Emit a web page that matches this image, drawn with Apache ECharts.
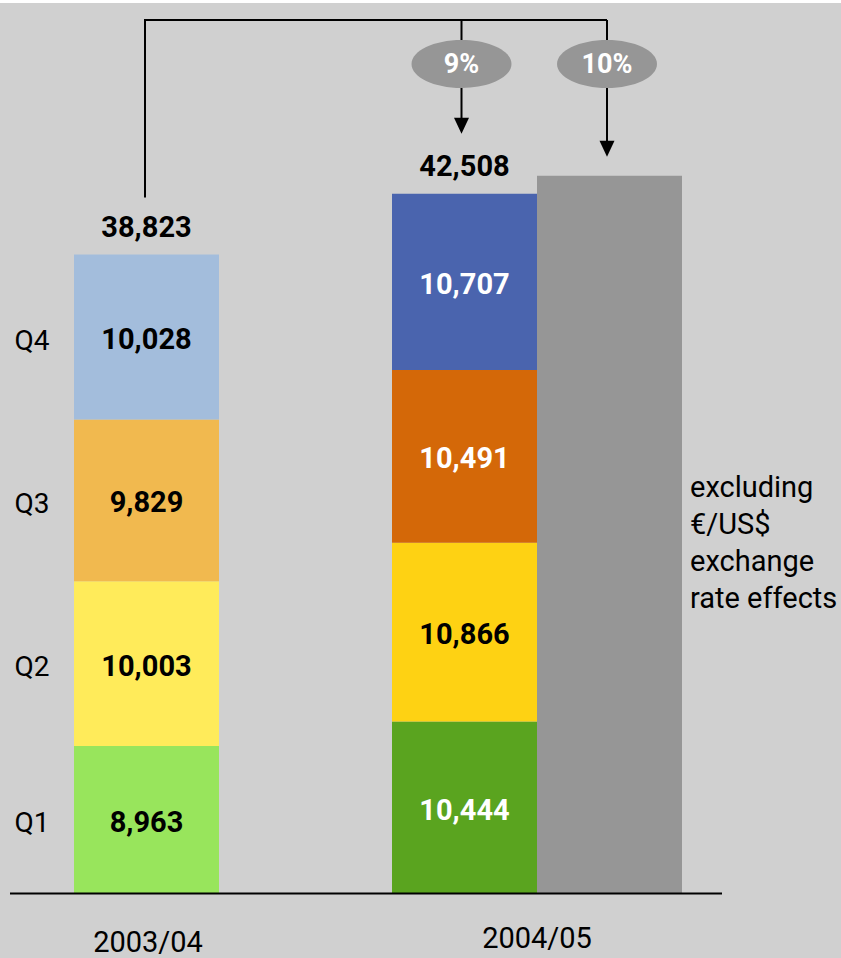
<!DOCTYPE html>
<html><head><meta charset="utf-8">
<script src="https://cdn.jsdelivr.net/npm/echarts@6/dist/echarts.min.js"></script>
<style>
html,body{margin:0;padding:0;background:#fff;}
#c{position:absolute;left:0;top:3px;width:841px;height:955px;background:#d0d0d0;}
</style>
</head><body><div id="c"></div>
<script>
// ---- data ----
const years = ['2003/04', '2004/05'];
const quarters = ['Q1', 'Q2', 'Q3', 'Q4'];
const q1 = [8963, 10444];
const q2 = [10003, 10866];
const q3 = [9829, 10491];
const q4 = [10028, 10707];
const totals = [38823, 42508];
const exclFx = ['-', 43600];
const growth = ['9%', '10%'];
const sideNote = ['excluding', '€/US$', 'exchange', 'rate effects'];

// ---- styles ----
const colors2003 = ['#98e55c', '#ffeb5a', '#f1b94f', '#a3bddc'];
const colors2004 = ['#5aa41f', '#fed213', '#d46808', '#4a64ae'];
const labelColors2004 = ['#ffffff', '#000000', '#ffffff', '#ffffff'];
const FONT = 'Roboto, "DejaVu Sans", sans-serif';
const BW = 145;

const fmt = v => Number(v).toLocaleString('en-US');
const qData = [q1, q2, q3, q4];

const series = qData.map((arr, qi) => ({
  name: quarters[qi], type: 'bar', stack: 'a', barWidth: BW, barGap: 0,
  stackStrategy: 'all',
  data: arr.map((v, yi) => ({
    value: v,
    itemStyle: { color: yi === 0 ? colors2003[qi] : colors2004[qi] },
    label: { color: yi === 0 ? '#000000' : labelColors2004[qi] }
  })),
  label: { show: true, position: 'inside', offset: [0, 2], fontFamily: FONT, fontWeight: 'bold', fontSize: 29,
           formatter: p => fmt(p.value) },
  silent: true
}));
series.push({
  name: 'Total', type: 'bar', stack: 'a', barWidth: BW, stackStrategy: 'all',
  data: totals.map(() => 0),
  itemStyle: { color: 'rgba(0,0,0,0)' },
  label: { show: true, position: 'top', distance: 13, color: '#000', fontFamily: FONT, fontWeight: 'bold', fontSize: 29,
           formatter: p => fmt(totals[p.dataIndex]) },
  silent: true
});
series.push({
  name: 'excl', type: 'bar', stack: 'b', barWidth: BW, barGap: 0,
  data: exclFx, itemStyle: { color: '#969696' }, silent: true
});

const chart = echarts.init(document.getElementById('c'), null, { renderer: 'svg' });
chart.setOption({
  animation: false,
  backgroundColor: '#d0d0d0',
  grid: { left: 60, right: 145, top: 67.5, bottom: 64.5 },
  xAxis: {
    type: 'category',
    data: [
      { value: years[0], textStyle: { padding: [4, 142, 0, 0] } },
      { value: years[1] }
    ],
    axisLine: { show: false }, axisTick: { show: false },
    axisLabel: { color: '#000', fontFamily: FONT, fontSize: 29, lineHeight: 30, margin: 29 }
  },
  yAxis: { type: 'value', min: 0, max: 50000, show: false, splitLine: { show: false } },
  series: series
});

// ---- annotations positioned through the chart's scales ----
const toX = i => chart.convertToPixel({ xAxisIndex: 0 }, years[i]);
const toY = v => chart.convertToPixel({ yAxisIndex: 0 }, v);
const cA0 = toX(0) - BW / 2, cA1 = toX(1) - BW / 2, cB1 = toX(1) + BW / 2;
const rightB1 = toX(1) + BW;
const base = toY(0);
const topY = 17, ellCy = 61, ellRx = 50, ellRy = 24;
const LINE = { stroke: '#000', lineWidth: 2 };

const g = [];
// baseline
g.push({ type: 'line', z: 100, shape: { x1: 10, y1: base, x2: 722, y2: base }, style: { stroke: '#000', lineWidth: 2 } });
// bracket
const xL = cA0 - 1.5, xM = cA1 - 3, xR = cB1 - 2.5;
g.push({ type: 'polyline', z: 100, shape: { points: [[xL, toY(totals[0]) - 57], [xL, topY], [xR, topY]] }, style: Object.assign({ fill: null }, LINE) });
const arrows = [
  { x: xM, tip: toY(totals[1]) - 60, txt: growth[0] },
  { x: xR, tip: toY(exclFx[1]) - 19, txt: growth[1] }
];
arrows.forEach(a => {
  g.push({ type: 'line', z: 100, shape: { x1: a.x, y1: topY, x2: a.x, y2: ellCy - ellRy }, style: LINE });
  g.push({ type: 'ellipse', z: 100, shape: { cx: a.x, cy: ellCy, rx: ellRx, ry: ellRy }, style: { fill: '#969696' } });
  g.push({ type: 'text', z: 101, x: a.x, y: ellCy, style: { text: a.txt, fill: '#fff', font: 'bold 27px ' + FONT, textAlign: 'center', textVerticalAlign: 'middle' } });
  g.push({ type: 'line', z: 100, shape: { x1: a.x, y1: ellCy + ellRy, x2: a.x, y2: a.tip - 15 }, style: LINE });
  g.push({ type: 'polygon', z: 100, shape: { points: [[a.x - 7.5, a.tip - 16], [a.x + 7.5, a.tip - 16], [a.x, a.tip]] }, style: { fill: '#000' } });
});
// quarter labels beside the first bar
let cum = 0;
qData.forEach((arr, qi) => {
  const mid = cum + arr[0] / 2; cum += arr[0];
  g.push({ type: 'text', z: 100, x: 32, y: toY(mid) + 3, style: { text: quarters[qi], fill: '#000', font: '28px ' + FONT, textAlign: 'center', textVerticalAlign: 'middle' } });
});
// side note
g.push({ type: 'text', z: 100, x: rightB1 + 8, y: 465.5, style: { text: sideNote.join('\n'), fill: '#000', font: '29px ' + FONT, lineHeight: 37, textAlign: 'left', textVerticalAlign: 'top' } });

chart.setOption({ graphic: g });
</script>
</body></html>
